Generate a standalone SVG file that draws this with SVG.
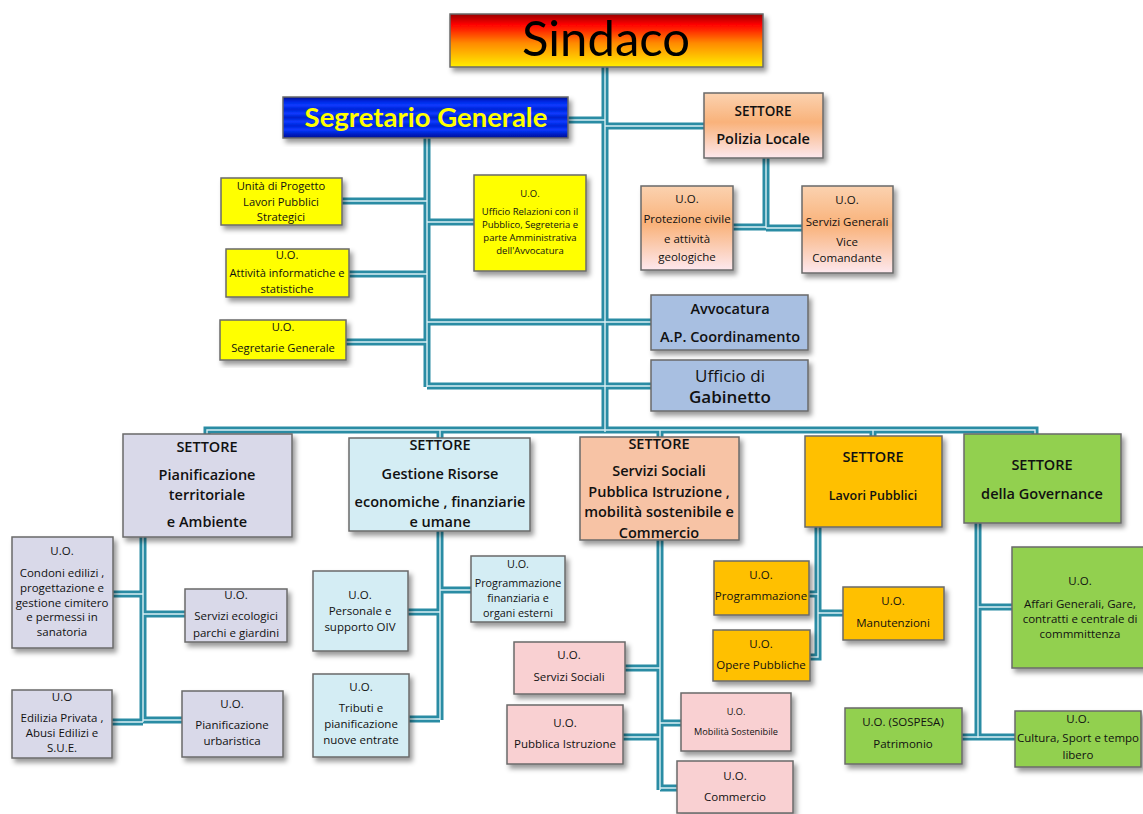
<svg xmlns="http://www.w3.org/2000/svg" width="1143" height="814" viewBox="0 0 1143 814">
<defs>
<style>
text{font-family:"Open Sans","Liberation Sans",sans-serif;fill:#111;text-anchor:middle}
.bx{stroke:#6a6a6a;stroke-width:1.5;filter:url(#sh)}
.c1{fill:none;stroke:#2a8ca4;stroke-width:7}
.c2{fill:none;stroke:#d9eef3;stroke-width:1.4}
.u{font-size:11.5px}
.y{font-size:11.2px}
.st{font-size:14.5px;font-weight:600}
.yel{fill:#ffff00}
.lav{fill:#d9d9e9}
.cya{fill:#d4edf4}
.pnk{fill:#f9d0d2}
.gld{fill:#ffc000}
.grn{fill:#92d050}
.stb{fill:#a8bfe1}
</style>
<filter id="sh" x="-10%" y="-10%" width="130%" height="130%">
<feDropShadow dx="3" dy="4" stdDeviation="2.5" flood-color="#000" flood-opacity="0.4"/>
</filter>
<linearGradient id="gSind" x1="0" y1="0" x2="0" y2="1">
<stop offset="0" stop-color="#9a0000"/>
<stop offset="0.2" stop-color="#ff0000"/>
<stop offset="0.55" stop-color="#ff8a00"/>
<stop offset="1" stop-color="#ffee00"/>
</linearGradient>
<linearGradient id="gSG" x1="0" y1="0" x2="0" y2="1">
<stop offset="0" stop-color="#00108a"/>
<stop offset="0.1" stop-color="#0026e0"/>
<stop offset="0.2" stop-color="#0a3aff"/>
<stop offset="0.3" stop-color="#0024d8"/>
<stop offset="0.4" stop-color="#0a3aff"/>
<stop offset="0.5" stop-color="#0022cc"/>
<stop offset="0.6" stop-color="#0a3aff"/>
<stop offset="0.7" stop-color="#0024d8"/>
<stop offset="0.8" stop-color="#0a3aff"/>
<stop offset="0.9" stop-color="#0020c8"/>
<stop offset="1" stop-color="#001090"/>
</linearGradient>
<linearGradient id="gPL" x1="0" y1="0" x2="0" y2="1">
<stop offset="0" stop-color="#fbd2b0"/>
<stop offset="0.45" stop-color="#f9b27a"/>
<stop offset="1" stop-color="#fde8ee"/>
</linearGradient>
</defs>
<rect width="1143" height="814" fill="#fff"/>

<g id="connectors">
<path class="c1" d="M605 67V432M568 120H605M605 126H704M427 138V387M342 201H427M349 274H427M346 342H427M427 222H474M427 322H651M427 386H651M766 158V228M733 227H766M766 228H802M207 436V430H1035V436M440 430V438M660 430V437M873 430V436M143 537V722M113 594H143M143 614H185M112 722H143M143 720H182M440 531V720M408 612H440M440 590H471M409 719H440M660 540V790M625 668H660M623 737H660M660 723H681M660 788H677M818 527V657H810M809 594H818M818 613H843M978 523V738M978 607H1012M962 737H1015"/>
<path class="c2" d="M605 67V432M568 120H605M605 126H704M427 138V387M342 201H427M349 274H427M346 342H427M427 222H474M427 322H651M427 386H651M766 158V228M733 227H766M766 228H802M207 436V430H1035V436M440 430V438M660 430V437M873 430V436M143 537V722M113 594H143M143 614H185M112 722H143M143 720H182M440 531V720M408 612H440M440 590H471M409 719H440M660 540V790M625 668H660M623 737H660M660 723H681M660 788H677M818 527V657H810M809 594H818M818 613H843M978 523V738M978 607H1012M962 737H1015"/>
</g>

<g id="sindaco"><rect class="bx" x="450" y="14" width="313" height="53" fill="url(#gSind)"/><text x="606" y="56" style="font-family:Lato,sans-serif;font-size:49px;fill:#000">Sindaco</text></g>
<g id="segretario"><rect class="bx" x="283" y="97" width="285" height="41" fill="url(#gSG)" stroke="#000060"/><text x="426" y="127" style="font-family:Lato,sans-serif;font-size:27.5px;font-weight:bold;fill:#ffff00">Segretario Generale</text></g>

<g id="polizia"><rect class="bx" x="704" y="93" width="119" height="65" fill="url(#gPL)"/><text x="763" y="116" style="font-size:13.5px;font-weight:600">SETTORE</text><text x="763" y="144" style="font-size:14.5px;font-weight:600">Polizia Locale</text></g>
<g id="protezione"><rect class="bx" x="641" y="186" width="92" height="84" fill="url(#gPL)"/><text class="u" x="687" y="203">U.O.</text><text class="u" x="687" y="223">Protezione civile</text><text class="u" x="687" y="243">e attività</text><text class="u" x="687" y="261">geologiche</text></g>
<g id="servgen"><rect class="bx" x="802" y="186" width="91" height="87" fill="url(#gPL)"/><text class="u" x="847" y="204">U.O.</text><text class="u" x="847" y="226">Servizi Generali</text><text class="u" x="847" y="246">Vice</text><text class="u" x="847" y="262">Comandante</text></g>

<g id="unitaprog"><rect class="bx yel" x="221" y="178" width="121" height="47"/><text class="y" x="281" y="190">Unità di Progetto</text><text class="y" x="281" y="206">Lavori Pubblici</text><text class="y" x="281" y="221">Strategici</text></g>
<g id="informatiche"><rect class="bx yel" x="226" y="249" width="123" height="48"/><text class="y" x="287" y="259">U.O.</text><text class="y" x="287" y="277">Attività informatiche e</text><text class="y" x="287" y="293">statistiche</text></g>
<g id="segretarie"><rect class="bx yel" x="220" y="320" width="126" height="40"/><text class="y" x="283" y="331">U.O.</text><text class="y" x="283" y="352">Segretarie  Generale</text></g>
<g id="relazioni"><rect class="bx yel" x="474" y="175" width="112" height="96"/><text x="530" y="197" style="font-size:9.5px">U.O.</text><text x="530" y="215" style="font-size:9.5px">Ufficio Relazioni con il</text><text x="530" y="228" style="font-size:9.5px">Pubblico, Segreteria e</text><text x="530" y="241" style="font-size:9.5px">parte Amministrativa</text><text x="530" y="254" style="font-size:9.5px">dell'Avvocatura</text></g>

<g id="avvocatura"><rect class="bx stb" x="651" y="295" width="157" height="55"/><text x="730" y="314" style="font-size:14.5px;font-weight:600">Avvocatura</text><text x="730" y="342" style="font-size:14.5px;font-weight:600">A.P. Coordinamento</text></g>
<g id="gabinetto"><rect class="bx stb" x="651" y="360" width="157" height="51"/><text x="730" y="382" style="font-size:17px">Ufficio di</text><text x="730" y="403" style="font-size:17px;font-weight:600">Gabinetto</text></g>

<g id="s-pianificazione"><rect class="bx lav" x="123" y="434" width="169" height="103"/><text class="st" x="207" y="452">SETTORE</text><text class="st" x="207" y="480">Pianificazione</text><text class="st" x="207" y="500">territoriale</text><text class="st" x="207" y="527">e Ambiente</text></g>
<g id="s-risorse"><rect class="bx cya" x="349" y="438" width="181" height="93"/><text class="st" x="440" y="450">SETTORE</text><text class="st" x="440" y="479">Gestione Risorse</text><text class="st" x="440" y="507">economiche , finanziarie</text><text class="st" x="440" y="527">e umane</text></g>
<g id="s-sociali"><rect class="bx" x="580" y="437" width="159" height="103" fill="#f7c3a5"/><text class="st" x="659" y="449">SETTORE</text><text class="st" x="659" y="476">Servizi Sociali</text><text class="st" x="659" y="497">Pubblica Istruzione ,</text><text class="st" x="659" y="517">mobilità sostenibile e</text><text class="st" x="659" y="538">Commercio</text></g>
<g id="s-lavori"><rect class="bx gld" x="805" y="436" width="137" height="91"/><text class="st" x="873" y="462">SETTORE</text><text x="873" y="500" style="font-size:12.5px;font-weight:600">Lavori Pubblici</text></g>
<g id="s-governance"><rect class="bx grn" x="964" y="434" width="157" height="89"/><text class="st" x="1042" y="470">SETTORE</text><text class="st" x="1042" y="499">della Governance</text></g>

<g id="condoni"><rect class="bx lav" x="12" y="537" width="101" height="111"/><text class="u" x="62" y="555">U.O.</text><text class="u" x="62" y="577">Condoni edilizi ,</text><text class="u" x="62" y="592">progettazione e</text><text class="u" x="62" y="607">gestione cimitero</text><text class="u" x="62" y="621">e permessi in</text><text class="u" x="62" y="636">sanatoria</text></g>
<g id="ecologici"><rect class="bx lav" x="185" y="589" width="102" height="53"/><text class="u" x="236" y="599">U.O.</text><text class="u" x="236" y="620">Servizi ecologici</text><text class="u" x="236" y="637">parchi e giardini</text></g>
<g id="edilizia"><rect class="bx lav" x="12" y="690" width="100" height="68"/><text class="u" x="62" y="701">U.O</text><text class="u" x="62" y="722">Edilizia Privata ,</text><text class="u" x="62" y="737">Abusi Edilizi e</text><text class="u" x="62" y="752">S.U.E.</text></g>
<g id="urbanistica"><rect class="bx lav" x="182" y="691" width="101" height="66"/><text class="u" x="232" y="708">U.O.</text><text class="u" x="232" y="729">Pianificazione</text><text class="u" x="232" y="745">urbaristica</text></g>

<g id="personale"><rect class="bx cya" x="313" y="571" width="95" height="80"/><text class="u" x="360" y="599">U.O.</text><text class="u" x="360" y="615">Personale e</text><text class="u" x="360" y="631">supporto OIV</text></g>
<g id="programmazionefin"><rect class="bx cya" x="471" y="556" width="94" height="66"/><text x="518" y="568" style="font-size:10.8px">U.O.</text><text x="518" y="587" style="font-size:10.8px">Programmazione</text><text x="518" y="602" style="font-size:10.8px">finanziaria e</text><text x="518" y="617" style="font-size:10.8px">organi esterni</text></g>
<g id="tributi"><rect class="bx cya" x="313" y="674" width="96" height="83"/><text class="u" x="361" y="691">U.O.</text><text class="u" x="361" y="712">Tributi e</text><text class="u" x="361" y="728">pianificazione</text><text class="u" x="361" y="744">nuove entrate</text></g>

<g id="servsociali"><rect class="bx pnk" x="514" y="642" width="111" height="52"/><text class="u" x="569" y="659">U.O.</text><text class="u" x="569" y="681">Servizi Sociali</text></g>
<g id="istruzione"><rect class="bx pnk" x="507" y="705" width="116" height="59"/><text class="u" x="565" y="727">U.O.</text><text class="u" x="565" y="748">Pubblica Istruzione</text></g>
<g id="mobilita"><rect class="bx pnk" x="681" y="693" width="110" height="58"/><text x="736" y="715" style="font-size:9.2px">U.O.</text><text x="736" y="735" style="font-size:9.2px">Mobilità Sostenibile</text></g>
<g id="commercio"><rect class="bx pnk" x="677" y="761" width="116" height="52"/><text class="u" x="735" y="780">U.O.</text><text class="u" x="735" y="801">Commercio</text></g>

<g id="programmazionelp"><rect class="bx gld" x="714" y="561" width="95" height="54"/><text class="u" x="761" y="579">U.O.</text><text class="u" x="761" y="600">Programmazione</text></g>
<g id="opere"><rect class="bx gld" x="713" y="630" width="97" height="51"/><text class="u" x="761" y="648">U.O.</text><text class="u" x="761" y="669">Opere Pubbliche</text></g>
<g id="manutenzioni"><rect class="bx gld" x="843" y="587" width="101" height="53"/><text class="u" x="893" y="605">U.O.</text><text class="u" x="893" y="627">Manutenzioni</text></g>

<g id="affari"><rect class="bx grn" x="1012" y="547" width="133" height="121"/><text class="u" x="1080" y="585">U.O.</text><text class="u" x="1080" y="608">Affari Generali, Gare,</text><text class="u" x="1080" y="623">contratti e centrale di</text><text class="u" x="1080" y="638">commmittenza</text></g>
<g id="patrimonio"><rect class="bx grn" x="845" y="708" width="117" height="56"/><text class="u" x="903" y="726">U.O. (SOSPESA)</text><text class="u" x="903" y="748">Patrimonio</text></g>
<g id="cultura"><rect class="bx grn" x="1015" y="711" width="126" height="56"/><text class="u" x="1078" y="723">U.O.</text><text class="u" x="1078" y="742">Cultura, Sport e tempo</text><text class="u" x="1078" y="759">libero</text></g>
</svg>
